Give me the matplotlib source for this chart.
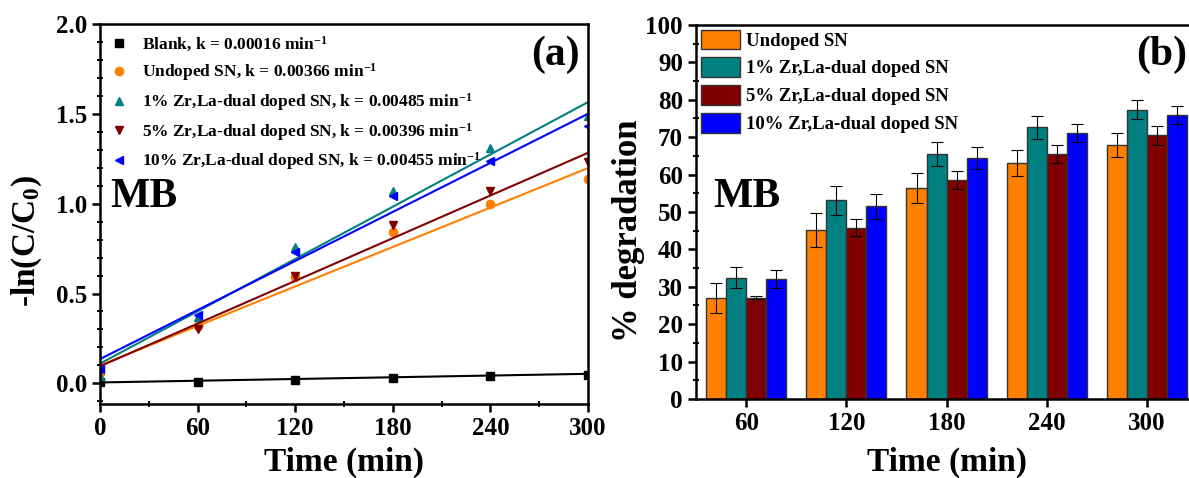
import numpy as np
import matplotlib
matplotlib.use("Agg")
import matplotlib.pyplot as plt
from matplotlib.ticker import MultipleLocator

plt.rcParams['font.family'] = 'Liberation Serif'
plt.rcParams['font.weight'] = 'bold'
plt.rcParams['axes.labelweight'] = 'bold'
plt.rcParams['mathtext.fontset'] = 'custom'
plt.rcParams['mathtext.rm'] = 'Liberation Serif:bold'
plt.rcParams['mathtext.bf'] = 'Liberation Serif:bold'
plt.rcParams['mathtext.it'] = 'Liberation Serif:bold'

# ---- panel (a): kinetics ----
time = [0, 60, 120, 180, 240, 300]
blank = [0.005, 0.01, 0.02, 0.03, 0.04, 0.048]
undoped = [0.06, 0.32, 0.59, 0.84, 1.00, 1.14]
zr1 = [0.04, 0.37, 0.76, 1.07, 1.31, 1.49]
zr5 = [0.07, 0.30, 0.60, 0.88, 1.07, 1.23]
zr10 = [0.08, 0.38, 0.73, 1.04, 1.24, 1.43]

k_vals = [0.00016, 0.00366, 0.00485, 0.00396, 0.00455]
intercepts = [0.005, 0.10, 0.11, 0.095, 0.135]

names_a = ['Blank, k = 0.00016 min$^{-1}$',
           'Undoped SN, k = 0.00366 min$^{-1}$',
           '1% Zr,La-dual doped SN, k = 0.00485 min$^{-1}$',
           '5% Zr,La-dual doped SN, k = 0.00396 min$^{-1}$',
           '10% Zr,La-dual doped SN, k = 0.00455 min$^{-1}$']

# ---- panel (b): degradation ----
bar_times = [60, 120, 180, 240, 300]
deg_undoped = [26.9, 45.1, 56.5, 63.1, 68.0]
deg_zr1 = [32.4, 53.1, 65.5, 72.6, 77.3]
deg_zr5 = [27.1, 45.8, 58.5, 65.6, 70.5]
deg_zr10 = [32.0, 51.5, 64.4, 71.1, 75.8]
err_undoped = [4.0, 4.6, 4.0, 3.4, 3.2]
err_zr1 = [2.8, 3.8, 3.2, 3.0, 2.5]
err_zr5 = [0.3, 2.2, 2.4, 2.4, 2.5]
err_zr10 = [2.4, 3.4, 3.0, 2.5, 2.4]

names_b = ['Undoped SN', '1% Zr,La-dual doped SN',
           '5% Zr,La-dual doped SN', '10% Zr,La-dual doped SN']

colors = ['#FF8000', '#008080', '#800000', '#0000FF']

fig = plt.figure(figsize=(11.89, 4.78), dpi=100)

ax1 = fig.add_axes([0.0841, 0.1548, 0.4104, 0.795])
series = [blank, undoped, zr1, zr5, zr10]
line_cols = ['black'] + colors
markers = ['s', 'o', '^', 'v', '<']
t = np.array(time)
for i in range(5):
    ax1.plot(time, series[i], linestyle='none', marker=markers[i], color=line_cols[i],
             markersize=6, label=names_a[i])
    ax1.plot(t, intercepts[i] + k_vals[i] * t, color=line_cols[i], linewidth=1.5)

ax1.set_xlim(0, 300)
ax1.set_ylim(-0.115, 2.0)
ax1.xaxis.set_major_locator(MultipleLocator(60))
ax1.xaxis.set_minor_locator(MultipleLocator(30))
ax1.yaxis.set_major_locator(MultipleLocator(0.5))
ax1.yaxis.set_minor_locator(MultipleLocator(0.1))
ax1.set_xlabel('Time (min)', fontsize=24, labelpad=5)
ax1.set_ylabel('-ln(C/C$_0$)', fontsize=24)
ax1.yaxis.set_label_coords(-0.114, 0.43)
ax1.text(0.984, 0.918, '(a)', transform=ax1.transAxes, fontsize=30, ha='right', va='center')
ax1.text(0.022, 0.545, 'MB', transform=ax1.transAxes, fontsize=30, ha='left', va='center')
ax1.legend(loc='upper left', bbox_to_anchor=(0.0, 1.0), frameon=False, fontsize=12.5,
           handlelength=1.0, handletextpad=0.8, labelspacing=0.45, borderaxespad=0.2)

ax2 = fig.add_axes([0.5854, 0.1653, 0.4214, 0.7827])
w = 12
offs = [-1.5 * w, -0.5 * w, 0.5 * w, 1.5 * w]
deg = [deg_undoped, deg_zr1, deg_zr5, deg_zr10]
errs = [err_undoped, err_zr1, err_zr5, err_zr10]
bt = np.array(bar_times)
for i in range(4):
    ax2.bar(bt + offs[i], deg[i], width=w, color=colors[i], edgecolor='#333333',
            linewidth=1.0, label=names_b[i], yerr=errs[i],
            error_kw=dict(ecolor='black', elinewidth=0.8, capsize=4, capthick=0.8))

ax2.set_xlim(30, 330)
ax2.set_ylim(0, 100)
ax2.set_xticks(bar_times)
ax2.yaxis.set_major_locator(MultipleLocator(10))
ax2.yaxis.set_minor_locator(MultipleLocator(5))
ax2.set_xlabel('Time (min)', fontsize=24, labelpad=8)
ax2.set_ylabel('% degradation', fontsize=25)
ax2.yaxis.set_label_coords(-0.102, 0.45)
ax2.text(0.98, 0.92, '(b)', transform=ax2.transAxes, fontsize=30, ha='right', va='center')
ax2.text(0.034, 0.54, 'MB', transform=ax2.transAxes, fontsize=30, ha='left', va='center')
ax2.legend(loc='upper left', bbox_to_anchor=(0.0, 1.0), frameon=False, fontsize=13.5,
           handlelength=2.1, handleheight=1.25, handletextpad=0.3, labelspacing=0.4,
           borderaxespad=0.0, borderpad=0.25)
ax2.spines['right'].set_visible(False)

for ax in (ax1, ax2):
    for s in ax.spines.values():
        s.set_linewidth(1.8)
    ax.tick_params(which='major', direction='out', length=6, width=1.8, labelsize=18)
    ax.tick_params(which='minor', direction='inout', length=5, width=1.4)
ax2.tick_params(axis='x', which='minor', bottom=False)

fig.savefig('out.png', dpi=100)
